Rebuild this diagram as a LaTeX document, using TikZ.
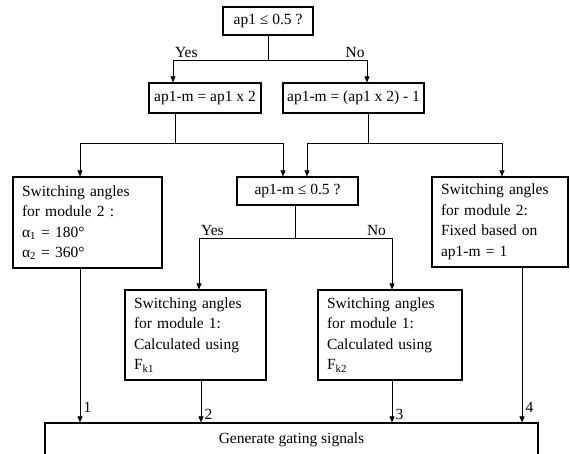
\documentclass[tikz,border=0pt]{standalone}
\usepackage{fontspec}
\setmainfont{Liberation Serif}
\usetikzlibrary{arrows.meta}
\usetikzlibrary{positioning}

\begin{document}
\begin{tikzpicture}[>={Triangle[length=6pt,width=5pt]},x=1pt,y=-1pt,
    font=\fontsize{15.5}{20.5}\selectfont,
    qbox/.style={draw,line width=1.2pt,minimum height=28pt,inner sep=3pt},
    tbox/.style={draw,line width=1.2pt,align=left,inner xsep=9pt,text width=#1,minimum height=90pt},
    link/.style={line width=0.6pt}]
          \useasboundingbox (0,0) rectangle (570,454);

          % decision on ap1
          \node[qbox,minimum width=90pt] (q1) at (268,21) {ap1 ≤ 0.5 ?};
          \node[qbox,minimum width=112pt,minimum height=30pt] (m1) at (205,98) {ap1-m = ap1 x 2};
          \node[qbox,minimum width=141pt,minimum height=30pt] (m2) at (353.5,98) {ap1-m = (ap1 x 2) - 1};

          % second level
          \node[tbox=131pt,minimum height=91pt] (s2a) at (87.5,222.5) {Switching angles\\ for module 2 :\\ α\textsubscript{1} = 180°\\ α\textsubscript{2} = 360°};
          \node[qbox,minimum width=121pt] (q2) at (297.5,191) {ap1-m ≤ 0.5 ?};
          \node[tbox=118pt] (s2b) at (500,222) {Switching angles\\ for module 2:\\ Fixed based on\\ ap1-m = 1};
          \node[tbox=123pt] (s1a) at (195.5,335) {Switching angles\\ for module 1:\\ Calculated using\\ F\textsubscript{k1}};
          \node[tbox=126pt] (s1b) at (390,335) {Switching angles\\ for module 1:\\ Calculated using\\ F\textsubscript{k2}};

          \node[draw,line width=1.2pt,minimum width=493pt,minimum height=34pt] (gen) at (291.5,440) {Generate gating signals};

          \coordinate (j1) at (268,60);
          \coordinate (j2) at (175,143);
          \coordinate (j3) at (368,143);
          \coordinate (j4) at (295,238);

          \draw[link] (q1.south) -- (j1);
          \draw[link,->] (j1) -| ([xshift=-32pt]m1.north) node[pos=0.43,above=-1pt]{Yes};
          \draw[link,->] (j1) -| ([xshift=13.5pt]m2.north) node[pos=0.44,above=-1pt]{No};

          \draw[link] ([xshift=-30pt]m1.south) -- (j2);
          \draw[link,->] (j2) -| ([xshift=-7.5pt]s2a.north);
          \draw[link,->] (j2) -| ([xshift=-14.5pt]q2.north);
          \draw[link] ([xshift=14.5pt]m2.south) -- (j3);
          \draw[link,->] (j3) -| ([xshift=9.5pt]q2.north);
          \draw[link,->] (j3) -| ([xshift=2pt]s2b.north);

          \draw[link] ([xshift=-2.5pt]q2.south) -- (j4);
          \draw[link,->] (j4) -| ([xshift=3.5pt]s1a.north) node[pos=0.43,above=-1pt]{Yes};
          \draw[link,->] (j4) -| ([xshift=2pt]s1b.north) node[pos=0.42,above=-1pt]{No};

          \draw[link,->] ([xshift=-7.5pt]s2a.south) -- ([xshift=-7.5pt]s2a.south |- gen.north) node[pos=0.9,right]{1};
          \draw[link,->] ([xshift=5.5pt]s1a.south) -- ([xshift=5.5pt]s1a.south |- gen.north) node[pos=0.8,right]{2};
          \draw[link,->] ([xshift=2pt]s1b.south) -- ([xshift=2pt]s1b.south |- gen.north) node[pos=0.8,right]{3};
          \draw[link,->] ([xshift=22pt]s2b.south) -- ([xshift=22pt]s2b.south |- gen.north) node[pos=0.9,right]{4};
        \end{tikzpicture}
\end{document}
